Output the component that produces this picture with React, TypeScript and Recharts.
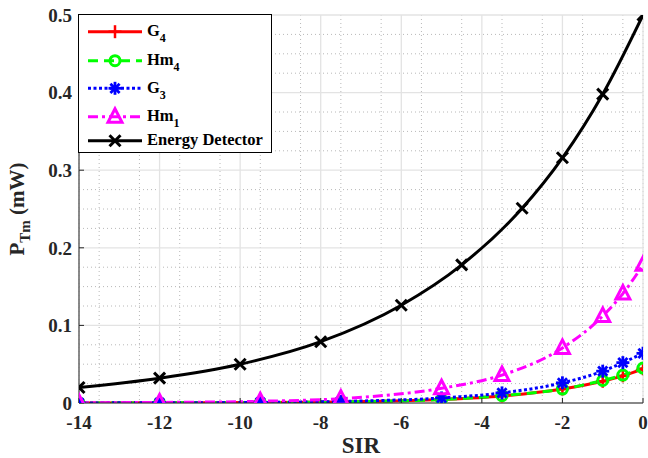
import React from "react";
import { LineChart, Line, XAxis, YAxis, CartesianGrid, Legend } from "recharts";

// ---- data ----
const sirED = [-14, -12, -10, -8, -6, -4.5, -3, -2, -1, 0];
const energyDetector = [0.02, 0.032, 0.05, 0.079, 0.126, 0.178, 0.251, 0.316, 0.398, 0.5];

const sirMarks = [-14, -12, -9.5, -7.5, -5, -3.5, -2, -1, -0.5, 0];
const g4 = [0.0001, 0.0002, 0.0005, 0.0014, 0.0045, 0.009, 0.018, 0.028, 0.035, 0.044];
const hm4 = [0.0001, 0.0002, 0.0005, 0.0014, 0.0045, 0.0095, 0.018, 0.029, 0.036, 0.045];
const g3 = [0.0001, 0.0003, 0.0007, 0.002, 0.0065, 0.013, 0.026, 0.041, 0.052, 0.064];
const hm1 = [0.0003, 0.0007, 0.0022, 0.0056, 0.019, 0.036, 0.071, 0.112, 0.141, 0.178];

const xTicks = [-14, -12, -10, -8, -6, -4, -2, 0];
const yTicks = [0, 0.1, 0.2, 0.3, 0.4, 0.5];
const xMinor = [-13.5, -13, -12.5, -11.5, -11, -10.5, -9.5, -9, -8.5, -7.5, -7, -6.5, -5.5, -5, -4.5, -3.5, -3, -2.5, -1.5, -1, -0.5];
const yMinor = [0.025, 0.05, 0.075, 0.125, 0.15, 0.175, 0.225, 0.25, 0.275, 0.325, 0.35, 0.375, 0.425, 0.45, 0.475];

type Row = { x: number; g4?: number; hm4?: number; g3?: number; hm1?: number; ed?: number };
const allX = Array.from(new Set([...sirED, ...sirMarks])).sort((a, b) => a - b);
const rows: Row[] = allX.map((x) => {
  const r: Row = { x };
  const i = sirMarks.indexOf(x);
  if (i >= 0) {
    r.g4 = g4[i];
    r.hm4 = hm4[i];
    r.g3 = g3[i];
    r.hm1 = hm1[i];
  }
  const j = sirED.indexOf(x);
  if (j >= 0) r.ed = energyDetector[j];
  return r;
});

const FONT = "Liberation Serif";
const AXIS = "#262626";

type Shape = "plus" | "circle" | "star" | "tri" | "x";

function marker(shape: Shape, cx: number, cy: number, color: string, key?: string | number) {
  const sw = 2.5;
  if (shape === "plus") {
    return (
      <g key={key}>
        <line x1={cx - 6.5} y1={cy} x2={cx + 6.5} y2={cy} stroke={color} strokeWidth={sw} />
        <line x1={cx} y1={cy - 6.5} x2={cx} y2={cy + 6.5} stroke={color} strokeWidth={sw} />
      </g>
    );
  }
  if (shape === "circle") {
    return <circle key={key} cx={cx} cy={cy} r={5} fill="none" stroke={color} strokeWidth={3} />;
  }
  if (shape === "star") {
    const r = 6.5;
    const d = r * 0.7071;
    return (
      <g key={key} stroke={color} strokeWidth={2.8}>
        <line x1={cx - r} y1={cy} x2={cx + r} y2={cy} />
        <line x1={cx} y1={cy - r} x2={cx} y2={cy + r} />
        <line x1={cx - d} y1={cy - d} x2={cx + d} y2={cy + d} />
        <line x1={cx - d} y1={cy + d} x2={cx + d} y2={cy - d} />
      </g>
    );
  }
  if (shape === "tri") {
    const pts = `${cx},${cy - 8} ${cx - 7},${cy + 5.5} ${cx + 7},${cy + 5.5}`;
    return <polygon key={key} points={pts} fill="none" stroke={color} strokeWidth={3} strokeLinejoin="miter" />;
  }
  return (
    <g key={key} stroke={color} strokeWidth={3}>
      <line x1={cx - 5.5} y1={cy - 5.5} x2={cx + 5.5} y2={cy + 5.5} />
      <line x1={cx - 5.5} y1={cy + 5.5} x2={cx + 5.5} y2={cy - 5.5} />
    </g>
  );
}

function dotFor(shape: Shape, color: string) {
  return (p: any) => {
    const k = `${shape}-${p.index}`;
    if (p.cx == null || p.cy == null || p.value == null || Number.isNaN(p.cy)) return <g key={k} />;
    return marker(shape, p.cx, p.cy, color, k);
  };
}

type SeriesDef = { key: keyof Row; name: string; sub?: string; color: string; dash?: string; shape: Shape };
const series: SeriesDef[] = [
  { key: "g4", name: "G", sub: "4", color: "#ff0000", shape: "plus" },
  { key: "hm4", name: "Hm", sub: "4", color: "#00ff00", dash: "10 6", shape: "circle" },
  { key: "g3", name: "G", sub: "3", color: "#0000ff", dash: "3 2.5", shape: "star" },
  { key: "hm1", name: "Hm", sub: "1", color: "#ff00ff", dash: "10 4 3 4", shape: "tri" },
  { key: "ed", name: "Energy Detector", color: "#000000", shape: "x" },
];

const legendLineY = [17.7, 46.7, 74.3, 102.7, 126.7];

function LegendBox() {
  return (
    <svg width={195} height={140} style={{ display: "block" }}>
      <rect x={0.5} y={0.5} width={193} height={138} fill="#ffffff" stroke="#000000" strokeWidth={1} />
      {series.map((s, i) => {
        const y = legendLineY[i];
        return (
          <g key={s.key as string}>
            <line x1={10} y1={y} x2={64} y2={y} stroke={s.color} strokeWidth={3} strokeDasharray={s.dash} />
            {marker(s.shape, 37, y, s.color)}
            <text x={69} y={y + 4.5} fontFamily={FONT} fontWeight="bold" fontSize={16.5} fill="#000">
              {s.name}
              {s.sub ? (
                <tspan dy={6} fontSize={12}>
                  {s.sub}
                </tspan>
              ) : null}
            </text>
          </g>
        );
      })}
    </svg>
  );
}

const YLabel = () => {
  const cx = 24;
  const cy = 209;
  return (
    <text
      x={cx}
      y={cy}
      transform={`rotate(-90, ${cx}, ${cy})`}
      textAnchor="middle"
      fontFamily={FONT}
      fontWeight="bold"
      fontSize={21}
      fill={AXIS}
    >
      P
      <tspan dy={6} fontSize={15}>
        Tm
      </tspan>
      <tspan dy={-6}>{"  (mW)"}</tspan>
    </text>
  );
};

const XLabel = (props: any) => {
  const vb = props.viewBox || {};
  const cx = (vb.x ?? 79) + (vb.width ?? 564) / 2;
  return (
    <text x={cx} y={453} textAnchor="middle" fontFamily={FONT} fontWeight="bold" fontSize={23} fill={AXIS}>
      SIR
    </text>
  );
};

const XTick = (p: any) => (
  <text x={p.x} y={p.y} dy="0.71em" textAnchor="middle" fontFamily={FONT} fontWeight="bold" fontSize={19} fill={AXIS}>
    {String(p.payload.value)}
  </text>
);

const YTick = (p: any) => (
  <text x={p.x} y={p.y} dy="0.355em" textAnchor="end" fontFamily={FONT} fontWeight="bold" fontSize={19} fill={AXIS}>
    {String(p.payload.value)}
  </text>
);

const minorHorizontal = (args: any) => {
  const yAxis = args && args.yAxis;
  const sc = yAxis && yAxis.scale;
  if (!sc) return [];
  const f = typeof sc === "function" ? sc : sc.map ? (v: number) => sc.map(v) : null;
  if (!f) return [];
  return yMinor.map((v) => f(v)).filter((n: any) => typeof n === "number" && !Number.isNaN(n));
};

export default function App() {
  return (
    <div style={{ position: "absolute", left: 0, top: 0, width: 648, height: 458, background: "#fff" }}>
      <LineChart width={648} height={458} data={rows} margin={{ top: 15, right: 5, bottom: 0, left: 0 }}>
        <CartesianGrid
          xAxisId="minor"
          stroke="#b8b8b8"
          strokeWidth={1}
          strokeDasharray="1 3"
          horizontalCoordinatesGenerator={minorHorizontal}
        />
        <CartesianGrid stroke="#e3e3e3" strokeWidth={1.3} />
        <XAxis xAxisId="minor" dataKey="x" type="number" domain={[-14, 0]} ticks={xMinor} hide />
        <XAxis
          dataKey="x"
          type="number"
          domain={[-14, 0]}
          ticks={xTicks}
          allowDataOverflow
          height={55}
          stroke={AXIS}
          tickSize={-5}
          tickMargin={18}
          tick={<XTick />}
          label={<XLabel />}
        />
        <YAxis
          type="number"
          domain={[0, 0.5]}
          ticks={yTicks}
          allowDataOverflow
          width={79}
          stroke={AXIS}
          tickSize={-5}
          tickMargin={12}
          tick={<YTick />}
          label={<YLabel />}
        />
        {series.map((s) => (
          <Line
            key={s.key as string}
            dataKey={s.key as string}
            name={s.name}
            type="monotone"
            stroke={s.color}
            strokeWidth={3}
            strokeDasharray={s.dash}
            connectNulls
            dot={dotFor(s.shape, s.color)}
            activeDot={false}
            isAnimationActive={false}
          />
        ))}
        <Legend
          layout="vertical"
          align="center"
          verticalAlign="middle"
          wrapperStyle={{ left: 78, top: 14, width: 195, height: 140 }}
          content={() => <LegendBox />}
        />
      </LineChart>
    </div>
  );
}
